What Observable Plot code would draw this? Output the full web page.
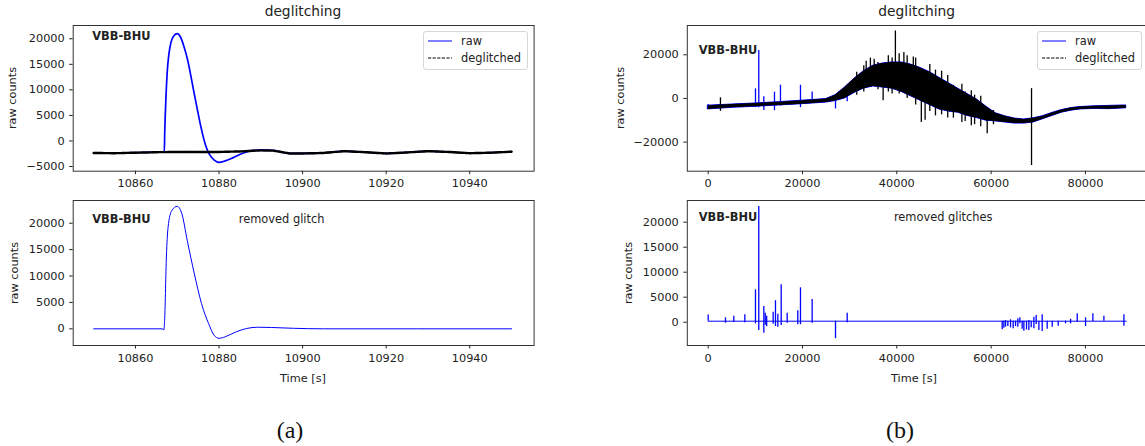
<!DOCTYPE html>
<html>
<head>
<meta charset="utf-8">
<script src="https://cdn.jsdelivr.net/npm/d3@7"></script>
<script src="https://cdn.jsdelivr.net/npm/@observablehq/plot@0.6"></script>
<style>
  html, body { margin: 0; padding: 0; background: #fff; overflow: hidden; }
  #wrap { position: relative; width: 1145px; height: 446px; overflow: hidden; background: #fff;
          font-family: "DejaVu Sans", sans-serif; color: #222; }
  .t { position: absolute; white-space: nowrap; transform: translate(-50%, -50%); line-height: 1; }
  .legend { position: absolute; box-sizing: border-box; border: 1px solid #d6d6d6; border-radius: 3px;
            background: rgba(255,255,255,0.85); font-size: 11.4px; }
</style>
</head>
<body>
<div id="wrap"></div>
<script>
// ---------------- data ----------------
// (a) top: raw trace around the glitch
const tlRawTime  = [10850, 10855, 10860, 10865, 10866.9, 10867.0, 10867.3, 10867.6, 10868.0, 10868.5, 10869.2, 10870.0, 10870.8, 10871.6, 10872.5, 10873.2, 10874.0, 10874.8, 10875.6, 10876.8, 10877.6, 10878.8, 10880.0, 10881.5, 10882.8, 10885.1, 10887.5, 10890, 10893, 10897, 10900, 10905, 10910, 10915, 10920, 10925, 10930, 10935, 10940, 10945, 10950];
const tlRawValue = [-2350, -2400, -2300, -2200, -2200, 1500, 8500, 13500, 17000, 19300, 20600, 21000, 20300, 18500, 15800, 13000, 9500, 6200, 3000, -900, -2500, -3700, -4200, -3900, -3500, -2600, -1950, -1750, -1850, -2450, -2450, -2350, -2000, -2200, -2450, -2250, -2000, -2150, -2400, -2300, -2100];
// (a) top: deglitched trace
const tlDeglTime  = [10850, 10855, 10860, 10865, 10870, 10875, 10880, 10885, 10890, 10893, 10897, 10900, 10905, 10910, 10915, 10920, 10925, 10930, 10935, 10940, 10945, 10950];
const tlDeglValue = [-2350, -2400, -2300, -2200, -2150, -2150, -2150, -2050, -1850, -1900, -2450, -2450, -2350, -2000, -2200, -2450, -2250, -2000, -2150, -2400, -2300, -2100];
// (a) bottom: removed glitch
const blGlitchTime  = [10850, 10866.4, 10866.8, 10867.0, 10867.4, 10867.8, 10868.7, 10870.0, 10871.1, 10872.4, 10874.1, 10875.8, 10877.5, 10878.8, 10880.0, 10881.5, 10884.1, 10886.6, 10889.2, 10892.6, 10897.8, 10905, 10950];
const blGlitchValue = [0, 0, -200, 2000, 13600, 19200, 22400, 23200, 21800, 16700, 10400, 4800, 1000, -1200, -1800, -1500, -570, 60, 300, 250, 100, 0, 0];

// (b) top: noise envelope of the day-long trace
const trEnvTime = [0, 5000, 10000, 15000, 20000, 25000, 27000, 29000, 31000, 33000, 35000, 37000, 39000, 41000, 43000, 45000, 47000, 49000, 51000, 53000, 55000, 57000, 59000, 61000, 63000, 65000, 67000, 69000, 71000, 73000, 75000, 77000, 79000, 82000, 85000, 88650];
const trEnvLow  = [-5000, -4300, -3800, -3200, -2600, -1900, -1200, 0, 2500, 4500, 5500, 5000, 4500, 3000, 1000, -1000, -3000, -5000, -6000, -6500, -8000, -9000, -10200, -10500, -11000, -11500, -11500, -11000, -9500, -8000, -6500, -5600, -5000, -4800, -4900, -4500];
const trEnvHigh = [-3300, -2800, -2300, -1700, -1000, -300, 1500, 5000, 9000, 12500, 15000, 16000, 16500, 16500, 15500, 14000, 12000, 9500, 7000, 4500, 2000, -500, -3800, -6800, -8200, -9200, -9600, -9100, -8100, -6600, -5300, -4400, -3900, -3600, -3400, -3200];
// (b) top: glitch spikes in the raw trace
const trRawSpikeTime = [0, 10030, 10730, 11800, 14060, 15330, 19570, 22050, 27000, 29480];
const trRawSpikeLow  = [-5000, -4200, -4300, -5500, -5600, -3500, -4200, -1700, -4800, -1500];
const trRawSpikeHigh = [-2800, 4400, 22000, 800, 2900, 6050, 6050, 2900, -150, 3000];
// (b) top: spikes kept in the deglitched trace
const trDeglSpikeTime = [2600, 31500, 33000, 33500, 34400, 35200, 36000, 37100, 38200, 39000, 39700, 40500, 41500, 42200, 43500, 44000, 45200, 46000, 47000, 48200, 49500, 50800, 52000, 53800, 54500, 55800, 56500, 57800, 59170, 60500, 68570];
const trDeglSpikeLow  = [-5900, 1500, 3000, 6000, 8000, 7000, 4000, -1000, 3000, 2000, 4000, 2000, 5000, 0, 3000, -3000, -11000, -10000, -6000, -8000, -7500, -9000, -9000, -11000, -10500, -12500, -12000, -13000, -16100, -12000, -30700];
const trDeglSpikeHigh = [300, 12000, 15000, 17000, 18500, 18000, 16500, 10000, 19500, 18500, 30900, 20500, 21000, 19500, 19000, 18500, 8000, 5000, 15500, 13000, 12500, 10500, 6000, 6500, 3000, 3500, 1500, 1000, -5000, -5500, 4500];
// (b) bottom: removed glitches
const brBaseTime  = [0, 88650];
const brBaseValue = [200, 200];
const brSpikeTime = [0, 3670, 5430, 7770, 10030, 10730, 11800, 12100, 12400, 13780, 14270, 14770, 15480, 16750, 19000, 19570, 22050, 27000, 29480,
  62350, 62700, 63060, 63550, 64120, 64680, 65180, 65670, 66100, 66590, 66950, 67510, 68010, 68500, 69070, 69560, 70130, 70830, 71890, 72960, 74230, 75780, 76850, 78260, 80030, 81580, 83920, 88160];
const brSpikeLow  = [200, -200, -60, -100, -330, -1660, -2200, -600, -900, -400, -860, -1000, -660, -200, -500, -500, -200, -3300, -100,
  -1530, -1190, -990, -860, -1130, -1330, -860, -990, -330, -1390, -1790, -1530, -1660, -1130, -1330, -460, -1660, -1860, -1390, -990, -790, -330, -330, 7, -860, 140, 207, -790];
const brSpikeHigh = [1450, 870, 1200, 1470, 6480, 23140, 3140, 1800, 1200, 2000, 4300, 1600, 7470, 1800, 2300, 6870, 4540, 200, 1800,
  207, 207, 340, 207, 470, 207, 207, 670, 870, 207, 207, 207, 340, 207, 1000, 1340, 207, 1470, 207, 207, 207, 207, 600, 1670, 870, 1670, 1200, 1470];

// tick labels
const leftXTicks  = [10860, 10880, 10900, 10920, 10940];
const rightXTicks = [0, 20000, 40000, 60000, 80000];
const tlYTicks = [-5000, 0, 5000, 10000, 15000, 20000];
const blYTicks = [0, 5000, 10000, 15000, 20000];
const trYTicks = [-20000, 0, 20000];
const brYTicks = [0, 5000, 10000, 15000, 20000];

// ---------------- build ----------------
const wrap = document.getElementById("wrap");
const fmt = d => d < 0 ? "\u2212" + Math.abs(d) : String(d);
const zip2 = (xs, ys) => xs.map((t, i) => ({t, v: ys[i]}));
const zip3 = (xs, lo, hi) => xs.map((t, i) => ({t, lo: lo[i], hi: hi[i]}));

function panel(o) {
  const svg = Plot.plot({
    width: o.width, height: o.height,
    marginLeft: o.ml, marginRight: o.mr, marginTop: o.mt, marginBottom: o.mb,
    x: {domain: o.xd, ticks: o.xt, tickFormat: fmt, tickSize: 3.5, tickPadding: 4.5, label: null},
    y: {domain: o.yd, ticks: o.yt, tickFormat: fmt, tickSize: 3.5, tickPadding: 5, label: null},
    style: {fontFamily: "DejaVu Sans", fontSize: "11.3px", color: "#222", background: "none", overflow: "visible"},
    marks: [...o.marks, Plot.frame({stroke: "#333", strokeWidth: 1})]
  });
  svg.style.position = "absolute";
  svg.style.left = o.left + "px";
  svg.style.top = o.top + "px";
  svg.style.maxWidth = "none";
  wrap.appendChild(svg);
}
function txt(s, x, y, css) {
  const d = document.createElement("div");
  d.className = "t";
  d.textContent = s;
  d.style.left = x + "px"; d.style.top = y + "px";
  Object.assign(d.style, css || {});
  wrap.appendChild(d);
}
function legend(x, y) {
  const d = document.createElement("div");
  d.className = "legend";
  Object.assign(d.style, {left: x + "px", top: y + "px", width: "105px", height: "39px"});
  d.innerHTML =
    '<svg width="105" height="39" style="position:absolute;left:-1px;top:-1px">' +
    '<line x1="5" x2="29" y1="10" y2="10" stroke="#0000ff" stroke-width="1"/>' +
    '<line x1="5" x2="29" y1="27" y2="27" stroke="#000" stroke-width="1" stroke-dasharray="3.2,1.4"/>' +
    '<text x="38" y="14" font-family="DejaVu Sans" font-size="11.4" fill="#222">raw</text>' +
    '<text x="38" y="31" font-family="DejaVu Sans" font-size="11.4" fill="#222">deglitched</text></svg>';
  wrap.appendChild(d);
}
const label = (s, dx, dy, extra) => Plot.text([s], {frameAnchor: "top-left", dx, dy, fontSize: 11.4, fill: "#222", ...extra});

const leftXD = [10845.1, 10955.4];
const rightXD = [-4430, 93080];

// (a) top
panel({left: 0, top: 0, width: 560, height: 200, ml: 72.7, mr: 26.4, mt: 25, mb: 29.3,
  xd: leftXD, yd: [-5920, 22600], xt: leftXTicks, yt: tlYTicks,
  marks: [
    Plot.line(zip2(tlRawTime, tlRawValue), {x: "t", y: "v", stroke: "#0000ff", strokeWidth: 1.7, curve: "monotone-x"}),
    Plot.line(zip2(tlDeglTime, tlDeglValue), {x: "t", y: "v", stroke: "#000", strokeWidth: 2.4, strokeDasharray: "3,0.8"}),
    label("VBB-BHU", 19, 6.7, {fontWeight: "bold"})
  ]});
// (a) bottom
panel({left: 0, top: 190, width: 560, height: 200, ml: 72.7, mr: 26.4, mt: 10, mb: 45,
  xd: leftXD, yd: [-3160, 24300], xt: leftXTicks, yt: blYTicks,
  marks: [
    Plot.line(zip2(blGlitchTime, blGlitchValue), {x: "t", y: "v", stroke: "#0000ff", strokeWidth: 1, curve: "monotone-x"}),
    label("VBB-BHU", 19, 14, {fontWeight: "bold"}),
    Plot.text(["removed glitch"], {frameAnchor: "top", dx: -22, dy: 14, fontSize: 11.4, fill: "#222"})
  ]});
// (b) top
panel({left: 580, top: 0, width: 570, height: 200, ml: 106.8, mr: 3.4, mt: 25, mb: 29.3,
  xd: rightXD, yd: [-33300, 33400], xt: rightXTicks, yt: trYTicks,
  marks: [
    Plot.areaY(zip3(trEnvTime, trEnvLow, trEnvHigh), {x: "t", y1: "lo", y2: "hi", fill: "#0000ff", stroke: "#0000ff", strokeWidth: 1}),
    Plot.ruleX(zip3(trRawSpikeTime, trRawSpikeLow, trRawSpikeHigh), {x: "t", y1: "lo", y2: "hi", stroke: "#0000ff", strokeWidth: 1.3}),
    Plot.areaY(zip3(trEnvTime, trEnvLow, trEnvHigh), {x: "t", y1: "lo", y2: "hi", fill: "#000"}),
    Plot.ruleX(zip3(trDeglSpikeTime, trDeglSpikeLow, trDeglSpikeHigh), {x: "t", y1: "lo", y2: "hi", stroke: "#000", strokeWidth: 1.3}),
    label("VBB-BHU", 11.5, 20, {fontWeight: "bold"})
  ]});
// (b) bottom
panel({left: 580, top: 190, width: 570, height: 200, ml: 106.8, mr: 3.4, mt: 10, mb: 45,
  xd: rightXD, yd: [-4660, 24340], xt: rightXTicks, yt: brYTicks,
  marks: [
    Plot.line(zip2(brBaseTime, brBaseValue), {x: "t", y: "v", stroke: "#0000ff", strokeWidth: 1}),
    Plot.ruleX(zip3(brSpikeTime, brSpikeLow, brSpikeHigh), {x: "t", y1: "lo", y2: "hi", stroke: "#0000ff", strokeWidth: 1.3}),
    label("VBB-BHU", 11.5, 12.7, {fontWeight: "bold"}),
    Plot.text(["removed glitches"], {frameAnchor: "top", dx: 26, dy: 12.5, fontSize: 11.4, fill: "#222"})
  ]});

// titles, axis labels, legends, captions
txt("deglitching", 303, 12, {fontSize: "13.8px"});
txt("deglitching", 916.7, 12, {fontSize: "13.8px"});
txt("raw counts", 12.7, 98, {fontSize: "11.3px", transform: "translate(-50%,-50%) rotate(-90deg)"});
txt("raw counts", 15, 272.5, {fontSize: "11.3px", transform: "translate(-50%,-50%) rotate(-90deg)"});
txt("raw counts", 621, 98, {fontSize: "11.3px", transform: "translate(-50%,-50%) rotate(-90deg)"});
txt("raw counts", 629, 272.5, {fontSize: "11.3px", transform: "translate(-50%,-50%) rotate(-90deg)"});
txt("Time [s]", 303, 379, {fontSize: "11.3px"});
txt("Time [s]", 914, 379, {fontSize: "11.3px"});
legend(423, 31);
legend(1036.7, 31);
txt("(a)", 290, 430, {fontFamily: "'Liberation Serif', serif", fontSize: "24px", color: "#111"});
txt("(b)", 900, 430, {fontFamily: "'Liberation Serif', serif", fontSize: "24px", color: "#111"});
</script>
</body>
</html>
